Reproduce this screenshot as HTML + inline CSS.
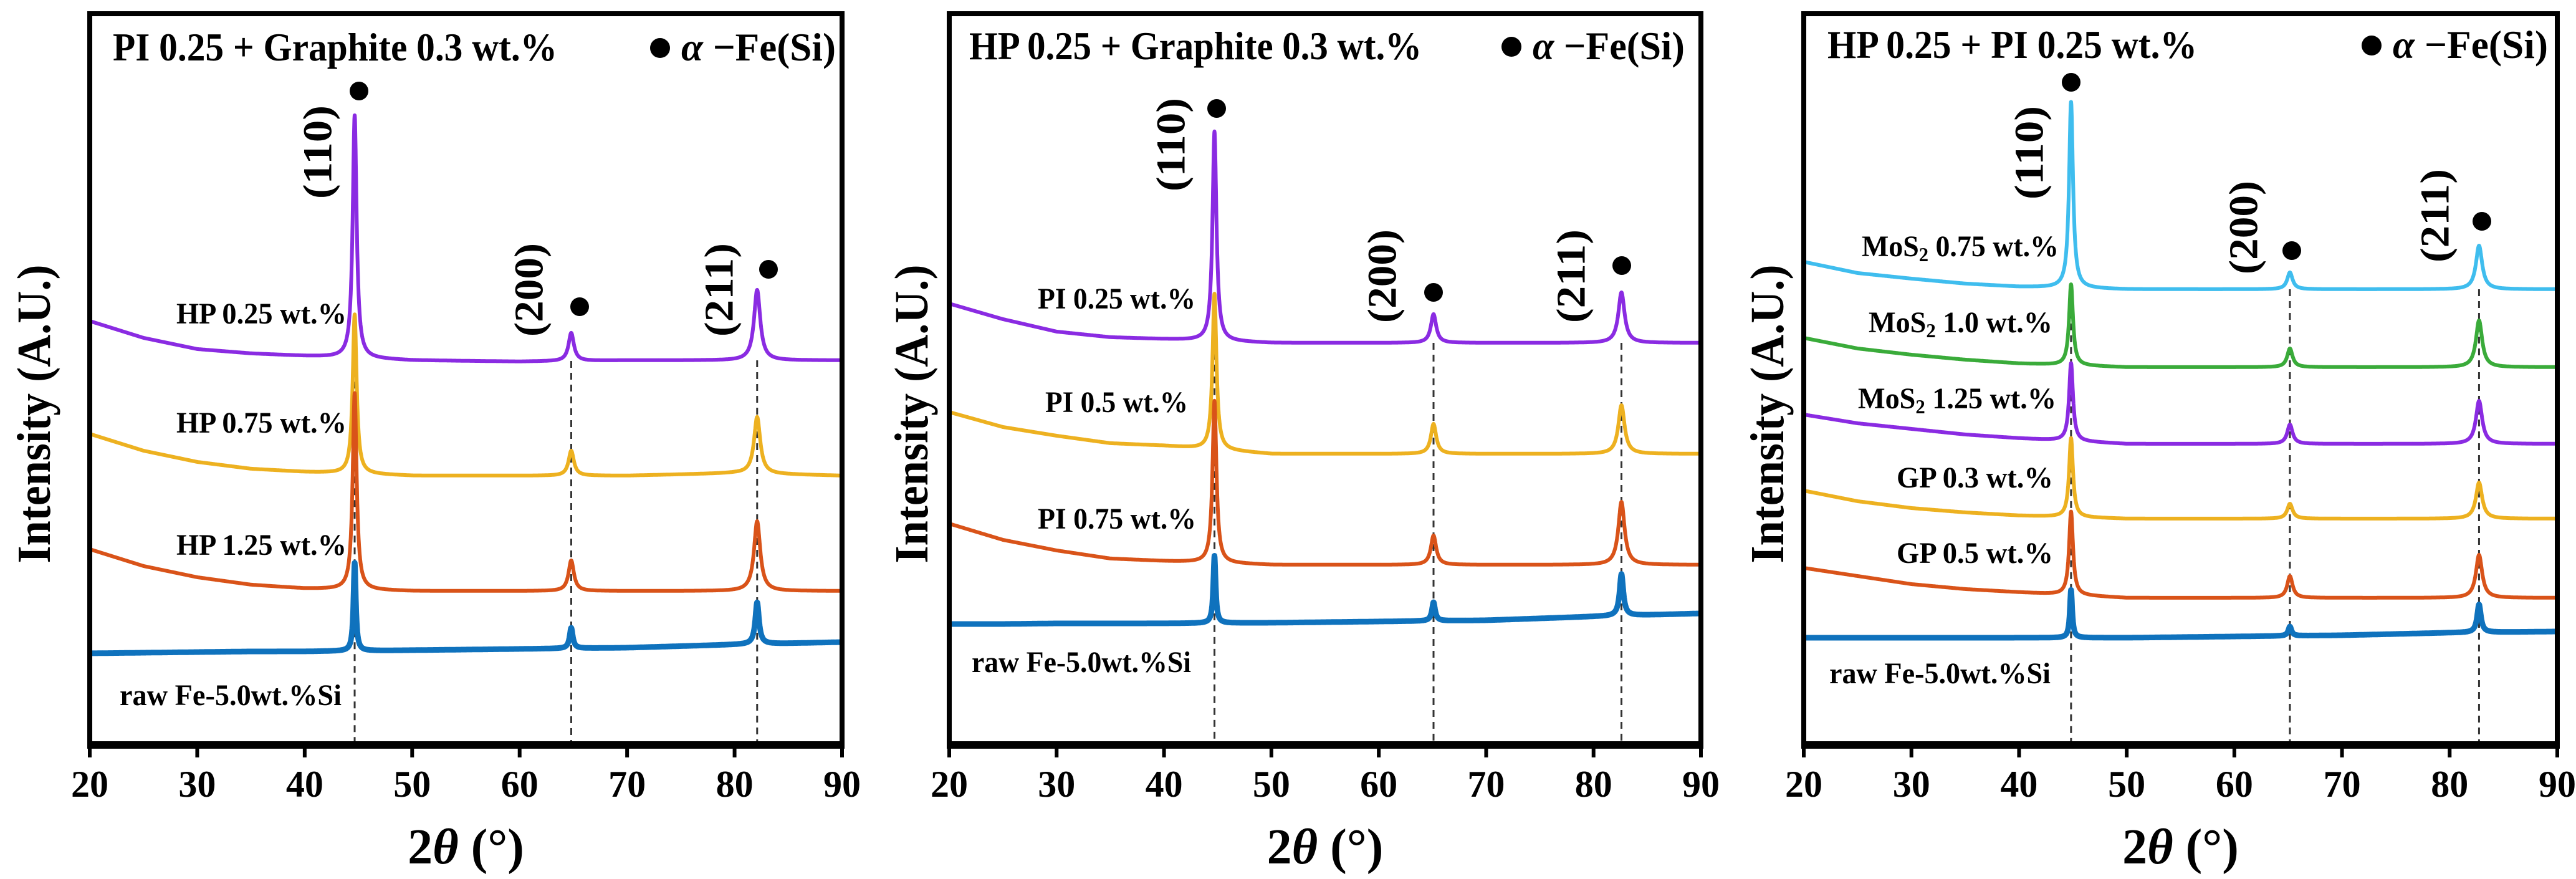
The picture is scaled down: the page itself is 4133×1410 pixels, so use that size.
<!DOCTYPE html>
<html><head><meta charset="utf-8"><style>
html,body{margin:0;padding:0;background:#fff;}
svg{display:block;font-family:"Liberation Serif",serif;font-weight:bold;}
</style></head><body>
<svg id="fig" width="4133" height="1410" viewBox="0 0 4133 1410" xmlns="http://www.w3.org/2000/svg"></svg>
<script>
// ===== data =====
const thetaGrid = [20,25,30,35,40,50,60,70,80,90];
const xTicks = [20,30,40,50,60,70,80,90];
const millerLabels = ["(110)","(200)","(211)"];
// panel 1: PI 0.25 + Graphite 0.3
const p1PeakPos = [44.65,64.8,82.1];
const p1Names = ["HP 0.25 wt.%","HP 0.75 wt.%","HP 1.25 wt.%","raw Fe-5.0wt.%Si"];
const p1Base0 = [680,653,635,628,624,617,615,617,617,617];
const p1Peaks0 = [390,45,113];
const p1Base1 = [499,472,454,443,438,432,432,432,436,432];
const p1Peaks1 = [256,40,91];
const p1Base2 = [314,287,269,257,251,247,247,247,247,247];
const p1Peaks2 = [316,49,112];
const p1Base3 = [147,148,149,150,150,152,154,156,161,165];
const p1Peaks3 = [142,33,67];
// panel 2: HP 0.25 + Graphite 0.3
const p2PeakPos = [44.7,65.1,82.6];
const p2Names = ["PI 0.25 wt.%","PI 0.5 wt.%","PI 0.75 wt.%","raw Fe-5.0wt.%Si"];
const p2Base0 = [708,683,663,654,651,645,645,645,645,645];
const p2Peaks0 = [336,46,81];
const p2Base1 = [534,510,496,484,480,467,467,467,467,467];
const p2Peaks1 = [250,48,78];
const p2Base2 = [355,329,312,299,295,289,289,289,289,289];
const p2Peaks2 = [260,47,101];
const p2Base3 = [194,194,195,195,195,196,198,200,206,211];
const p2Peaks3 = [108,30,67];
// panel 3: HP 0.25 + PI 0.25
const p3PeakPos = [44.83,65.16,82.73];
const p3Names = ["MoS|0.75 wt.%","MoS|1.0 wt.%","MoS|1.25 wt.%","GP 0.3 wt.%","GP 0.5 wt.%","raw Fe-5.0wt.%Si"];
const p3Base0 = [775,757,748,740,735,731,731,731,731,731];
const p3Peaks0 = [299,27,70];
const p3Base1 = [653,636,626,618,612,606,606,606,606,606];
const p3Peaks1 = [130,30,75];
const p3Base2 = [530,516,507,498,492,483,483,483,483,483];
const p3Peaks2 = [125,31,69];
const p3Base3 = [408,391,380,373,368,363,363,363,363,363];
const p3Peaks3 = [127,24,58];
const p3Base4 = [284,271,258,250,245,236,236,236,236,236];
const p3Peaks4 = [134,35,69];
const p3Base5 = [172,172,172,172,172,172,174,176,180,182];
const p3Peaks5 = [77,15,45];

// ===== layout =====
const NS = "http://www.w3.org/2000/svg";
const svg = document.getElementById("fig");
const TOP = 22, BOT = 1195, YMAX = 1173;
const C = {purple:"#8a2be2",yellow:"#edb120",orange:"#d95319",blue:"#0f72bd",cyan:"#3fbdee",green:"#3aab3a"};
const panels = [
 {L:144,R:1351,title:"PI 0.25 + Graphite 0.3 wt.%",tx:181,tw:713,ty:97,lg:[1043,1341],
  pos:p1PeakPos,names:p1Names,bases:[p1Base0,p1Base1,p1Base2,p1Base3],peaks:[p1Peaks0,p1Peaks1,p1Peaks2,p1Peaks3],
  cols:[C.purple,C.yellow,C.orange,C.blue],
  lab:[[283,556,519],[283,556,694],[283,556,890],[192,548,1131]],
  mill:[[510,244],[849,465],[1154,465]],dots:[[576,146],[930,492],[1233,432]],ylx:55},
 {L:1523,R:2729,title:"HP 0.25 + Graphite 0.3 wt.%",tx:1555,tw:726,ty:95,lg:[2409,2703],
  pos:p2PeakPos,names:p2Names,bases:[p2Base0,p2Base1,p2Base2,p2Base3],peaks:[p2Peaks0,p2Peaks1,p2Peaks2,p2Peaks3],
  cols:[C.purple,C.yellow,C.orange,C.blue],
  lab:[[1665,1918,495],[1677,1906,661],[1665,1919,848],[1559,1911,1078]],
  mill:[[1879,232],[2218,443],[2521,443]],dots:[[1952,174],[2300,469],[2602,426]],ylx:1463},
 {L:2894,R:4103,title:"HP 0.25 + PI 0.25 wt.%",tx:2932,tw:593,ty:93,lg:[3789,4088],
  pos:p3PeakPos,names:p3Names,bases:[p3Base0,p3Base1,p3Base2,p3Base3,p3Base4,p3Base5],peaks:[p3Peaks0,p3Peaks1,p3Peaks2,p3Peaks3,p3Peaks4,p3Peaks5],
  cols:[C.cyan,C.green,C.purple,C.yellow,C.orange,C.blue],
  lab:[[2987,3303,411],[2998,3293,533],[2981,3299,655],[3043,3294,782],[3043,3294,903],[2935,3290,1096]],
  mill:[[3256,245],[3600,365],[3907,346]],dots:[[3323,132],[3677,402],[3982,355]],ylx:2836}
];
const widths = [0.22,0.3,0.35];

function el(tag, attrs, parent){
  const e = document.createElementNS(NS, tag);
  for (const k in attrs) e.setAttribute(k, attrs[k]);
  (parent||svg).appendChild(e);
  return e;
}
function interp(xs, ys, x){
  for (let i=0;i<xs.length-1;i++){
    if (x<=xs[i+1]){const t=(x-xs[i])/(xs[i+1]-xs[i]);return ys[i]+t*(ys[i+1]-ys[i]);}
  }
  return ys[ys.length-1];
}

panels.forEach((p, pi) => {
  const xS = t => p.L + (t-20)*(p.R-p.L)/70;
  const yS = v => BOT - v*(BOT-TOP)/YMAX;
  const g = el("g", {});
  
  
  const cid = "clip"+pi;
  const cp = el("clipPath",{id:cid},g);
  el("rect",{x:p.L,y:TOP,width:p.R-p.L,height:BOT-TOP},cp);

  const topBase = p.bases[0];
  p.pos.forEach((t,k)=>{
    const ln = el("line",{x1:xS(t),x2:xS(t),y1:yS(interp(thetaGrid,topBase,t)),y2:BOT,stroke:"#333","stroke-width":3,"stroke-dasharray":"11,8"},g);
    
    
  });

  const cg = el("g",{"clip-path":"url(#"+cid+")"},g);
  p.bases.forEach((b, si) => {
    let d = "";
    for (let t=20; t<=90.001; t+=0.02){
      let v = interp(thetaGrid, b, t);
      for (let k=0;k<3;k++){ const w = si===p.bases.length-1 ? widths[k]*0.6 : widths[k]; const z=(t-p.pos[k])/w; v += p.peaks[si][k]/(1+z*z); }
      d += (d?"L":"M")+xS(t).toFixed(1)+","+yS(v).toFixed(1);
    }
    const path = el("path",{d:d,fill:"none",stroke:p.cols[si],"stroke-width":si===p.bases.length-1?9:6,"stroke-linejoin":"round"},cg);
    
    
  });

  const fr = el("rect",{x:p.L,y:TOP,width:p.R-p.L,height:BOT-TOP,fill:"none",stroke:"#000","stroke-width":8},g);
  
  
  const xa = el("line",{x1:p.L-4,x2:p.R+4,y1:BOT,y2:BOT,stroke:"#000","stroke-width":12},g);
  
  
  xTicks.forEach(t=>{
    const tk = el("line",{x1:xS(t),x2:xS(t),y1:BOT,y2:BOT+20,stroke:"#000","stroke-width":6},g);
    
    
    const tl = el("text",{x:xS(t),y:1278,"text-anchor":"middle","font-size":60},g);
    tl.textContent = t;
    
    
  });
  const xl = el("text",{x:(p.L+p.R)/2,y:1385,"text-anchor":"middle","font-size":80},g);
  xl.innerHTML = '2<tspan font-style="italic">θ</tspan> (°)';
  
  
  const yl = el("text",{x:0,y:0,"text-anchor":"middle","dominant-baseline":"central","font-size":76,textLength:479,lengthAdjust:"spacingAndGlyphs",transform:"translate("+p.ylx+",664) rotate(-90)"},g);
  yl.textContent = "Intensity (A.U.)";
  
  

  const tt = el("text",{x:p.tx,y:p.ty,"font-size":64,textLength:p.tw,lengthAdjust:"spacingAndGlyphs"},g);
  tt.textContent = p.title;
  
  
  const ld = el("circle",{cx:p.lg[0]+16,cy:p.ty-20,r:16,fill:"#000"},g);
  
  
  const lt = el("text",{x:p.lg[0]+50,y:p.ty,"font-size":64,textLength:p.lg[1]-p.lg[0]-50,lengthAdjust:"spacingAndGlyphs"},g);
  lt.innerHTML = '<tspan font-style="italic">α</tspan> −Fe(Si)';
  
  

  p.mill.forEach((m,k)=>{
    const mt = el("text",{x:0,y:0,"text-anchor":"middle","dominant-baseline":"central","font-size":66,textLength:150,lengthAdjust:"spacingAndGlyphs",transform:"translate("+m[0]+","+m[1]+") rotate(-90)"},g);
    mt.textContent = millerLabels[k];
    
    
    const dt = el("circle",{cx:p.dots[k][0],cy:p.dots[k][1],r:15,fill:"#000"},g);
    
    
  });

  p.names.forEach((n,si)=>{
    const lb = p.lab[si];
    const st = el("text",{x:lb[0],y:lb[2],"font-size":48,textLength:lb[1]-lb[0],lengthAdjust:"spacingAndGlyphs"},g);
    if (n.indexOf('|')>=0){
      const parts = n.split('|');
      st.innerHTML = parts[0]+'<tspan font-size="32" dy="8">2</tspan><tspan dy="-8"> '+parts[1]+'</tspan>';
    } else st.textContent = n;
    
    
  });
});
</script>
</body></html>
